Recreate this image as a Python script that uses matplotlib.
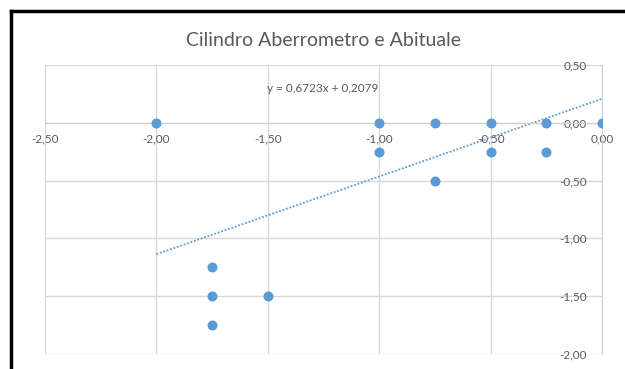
import matplotlib.pyplot as plt
from matplotlib.ticker import FuncFormatter, MultipleLocator
from matplotlib.lines import Line2D

# dati
cil_aberrometro = [-2.00, -1.00, -0.75, -0.50, -0.25, 0.00,
                   -1.00, -0.50, -0.25, -0.75,
                   -1.75, -1.75, -1.50, -1.75]
cil_abituale = [0.00, 0.00, 0.00, 0.00, 0.00, 0.00,
                -0.25, -0.25, -0.25, -0.50,
                -1.25, -1.50, -1.50, -1.75]
# linea di tendenza (equazione mostrata sul grafico)
slope = 0.6723
intercept = 0.2079
trend_x = [min(cil_aberrometro), max(cil_aberrometro)]

blue = '#5B9BD5'
gray = '#595959'
plt.rcParams['font.family'] = ['Lato', 'DejaVu Sans']

fig = plt.figure(figsize=(6.25, 3.69), dpi=100)
ax = fig.add_axes([45/625, 1 - 354/369, (602 - 45)/625, (354 - 65)/369])

ax.scatter(cil_aberrometro, cil_abituale, s=52, color=blue, zorder=3, linewidths=0)
trend_y = [slope * v + intercept for v in trend_x]
ax.plot(trend_x, trend_y, color=blue, lw=1.3, ls=(0, (1, 1)), zorder=2)

ax.set_xlim(-2.5, 0)
ax.set_ylim(-2, 0.5)
ax.xaxis.set_major_locator(MultipleLocator(0.5))
ax.yaxis.set_major_locator(MultipleLocator(0.5))
fmt = FuncFormatter(lambda v, p: f'{v:.2f}'.replace('.', ','))
ax.xaxis.set_major_formatter(fmt)
ax.yaxis.set_major_formatter(fmt)

for s in ['top', 'right']:
    ax.spines[s].set_visible(False)
ax.spines['bottom'].set_position(('data', 0))
ax.spines['left'].set_position(('data', 0))
ax.spines['bottom'].set_color('#D0D0D0')
ax.spines['left'].set_color('#D0D0D0')
ax.tick_params(axis='x', length=0, pad=8, labelsize=8.5, labelcolor=gray)
ax.tick_params(axis='y', length=0, pad=11, labelsize=8.5, labelcolor=gray)
ax.grid(True, color='#D9D9D9', lw=1)
ax.set_axisbelow(True)

fig.text(323/625, 1 - 41/369, 'Cilindro Aberrometro e Abituale',
         ha='center', va='center', fontsize=14, color=gray)
fig.text(323/625, 1 - 88/369, 'y = 0,6723x + 0,2079',
         ha='center', va='center', fontsize=8.5, color=gray)

# cornice nera
fig.add_artist(Line2D([10.5/625, 10.5/625], [0, 1 - 10.5/369], color='black', lw=2.5,
                      transform=fig.transFigure))
fig.add_artist(Line2D([10.5/625, 1], [1 - 10.5/369, 1 - 10.5/369], color='black', lw=2.5,
                      transform=fig.transFigure))

fig.savefig('out.png', dpi=100)
